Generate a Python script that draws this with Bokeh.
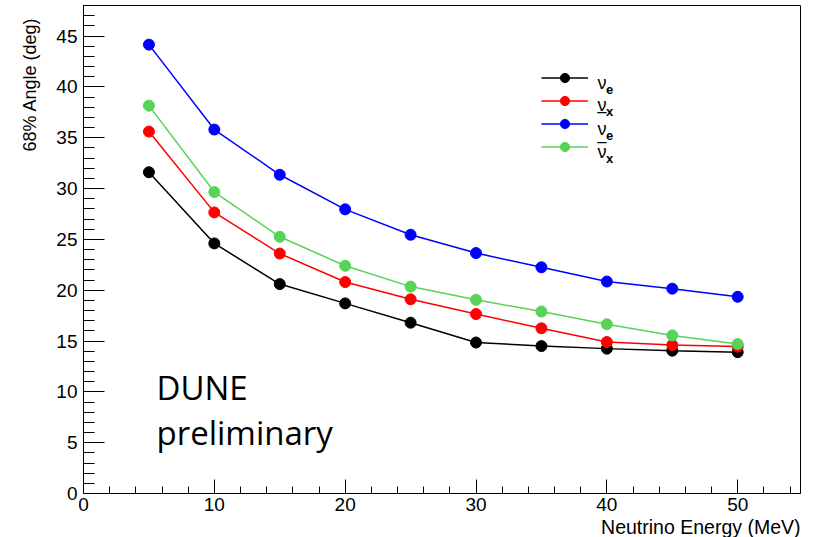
from bokeh.plotting import figure
from bokeh.models import (Range1d, SingleIntervalTicker, Label, Legend, LegendItem, Title)
from bokeh.embed import file_html
from bokeh.resources import INLINE

# ---- data ----
energy = [5, 10, 15, 20, 25, 30, 35, 40, 45, 50]
nu_e = [31.6, 24.6, 20.6, 18.7, 16.8, 14.85, 14.5, 14.25, 14.05, 13.9]
nu_x = [35.6, 27.65, 23.6, 20.8, 19.1, 17.65, 16.25, 14.9, 14.6, 14.45]
nubar_e = [44.15, 35.8, 31.35, 27.95, 25.45, 23.65, 22.25, 20.85, 20.15, 19.35]
nubar_x = [38.15, 29.65, 25.25, 22.4, 20.35, 19.05, 17.9, 16.65, 15.55, 14.7]
series_colors = ["black", "#ff0000", "#0000ff", "#57d357"]
x_ticks_interval = 10
y_ticks_interval = 5
x_title = "Neutrino Energy (MeV)"
y_title = "68% Angle (deg)"

# ---- layout (image pixel coordinates) ----
W, H = 813, 537
FRAME_L, FRAME_R, FRAME_T, FRAME_B = 83, 800, 5, 493
X_END = 54.8
Y_END = 48
PX_X = (FRAME_R - FRAME_L) / X_END
PX_Y = (FRAME_B - FRAME_T) / Y_END


def dx(px):
    return (px - FRAME_L) / PX_X


def dy(py):
    return (FRAME_B - py) / PX_Y


p = figure(width=W, height=H, output_backend="svg", toolbar_location=None,
           x_range=Range1d(0, X_END), y_range=Range1d(0, Y_END),
           min_border_left=FRAME_L, min_border_right=W - FRAME_R,
           min_border_top=FRAME_T, min_border_bottom=H - FRAME_B)

p.background_fill_color = "white"
p.border_fill_color = "white"
p.outline_line_color = "black"
p.outline_line_width = 1
p.xgrid.visible = False
p.ygrid.visible = False

tick_font = "Liberation Sans"

xa = p.xaxis[0]
xa.ticker = SingleIntervalTicker(interval=x_ticks_interval, num_minor_ticks=5)
xa.major_tick_in = 14
xa.major_tick_out = 0
xa.minor_tick_in = 7
xa.minor_tick_out = 0
xa.major_label_standoff = 4
xa.major_label_text_font = tick_font
xa.major_label_text_font_size = "19px"
xa.major_label_text_color = "black"
xa.axis_line_color = "black"
xa.major_tick_line_color = "black"
xa.minor_tick_line_color = "black"

ya = p.yaxis[0]
ya.ticker = SingleIntervalTicker(interval=y_ticks_interval, num_minor_ticks=5)
ya.major_tick_in = 21
ya.major_tick_out = 0
ya.minor_tick_in = 11
ya.minor_tick_out = 0
ya.major_label_standoff = 6
ya.major_label_text_font = tick_font
ya.major_label_text_font_size = "19px"
ya.major_label_text_color = "black"
ya.axis_line_color = "black"
ya.major_tick_line_color = "black"
ya.minor_tick_line_color = "black"

# axis titles, right-aligned (ROOT style)
p.add_layout(Title(text=x_title, align="right", standoff=0, offset=0,
                   text_font=tick_font, text_font_size="19.5px",
                   text_font_style="normal", text_color="black"), "below")
p.add_layout(Title(text=y_title, align="right", standoff=28, offset=12,
                   text_font=tick_font, text_font_size="18px",
                   text_font_style="normal", text_color="black"), "left")

all_series = [nu_e, nu_x, nubar_e, nubar_x]
items = []
for vals, col in zip(all_series, series_colors):
    lr = p.line(energy, vals, line_color=col, line_width=1.5)
    sr = p.scatter(energy, vals, size=11, fill_color=col, line_color=col)
    items.append(LegendItem(label=" ", renderers=[lr, sr]))

legend = Legend(items=items, location=(541 - FRAME_L, FRAME_B - 158),
                glyph_width=47, glyph_height=23, spacing=0, padding=0, margin=0,
                label_width=0, label_height=23, label_standoff=0,
                label_text_font_size="1px",
                border_line_alpha=0, background_fill_alpha=0)
p.add_layout(legend)

# legend texts: nu symbols with subscripts
nu_baselines = [82.5, 104.5, 128.5, 151]
subs = ["e", "x", "e", "x"]
for bl, s in zip(nu_baselines, subs):
    p.add_layout(Label(x=dx(597), y=dy(bl), text="ν", text_font=tick_font,
                       text_font_size="18px", text_color="black",
                       text_baseline="alphabetic", text_align="left"))
    p.add_layout(Label(x=dx(605.5), y=dy(bl + 6.8), text=s, text_font=tick_font,
                       text_font_size="13px", text_font_style="bold",
                       text_color="black", text_baseline="alphabetic",
                       text_align="left"))
# bars of the anti-neutrino symbols (as rendered in the original)
for bl in [103.5, 133.8]:
    p.add_layout(Label(x=dx(597), y=dy(bl), text="_", text_font=tick_font,
                       text_font_size="16px", text_color="black",
                       text_baseline="alphabetic", text_align="left"))

# DUNE preliminary
p.add_layout(Label(x=dx(156), y=dy(387), text="DUNE", text_font="Open Sans",
                   text_font_size="33px", text_color="black",
                   text_baseline="alphabetic", text_align="left"))
p.add_layout(Label(x=dx(156), y=dy(432), text="preliminary", text_font="Open Sans",
                   text_font_size="33px", text_color="black",
                   text_baseline="alphabetic", text_align="left"))

open("out.html", "w").write(file_html(p, INLINE))
